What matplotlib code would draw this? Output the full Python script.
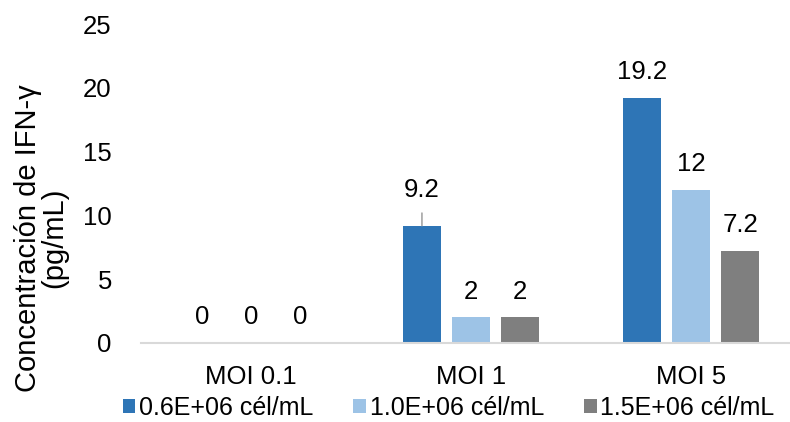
import numpy as np
import matplotlib.pyplot as plt
from matplotlib.patches import Patch

plt.rcParams['font.family'] = ['Liberation Sans', 'DejaVu Sans']

categorias = ["MOI 0.1", "MOI 1", "MOI 5"]
series = ["0.6E+06 cél/mL", "1.0E+06 cél/mL", "1.5E+06 cél/mL"]
cel_06 = [0, 9.2, 19.2]
cel_10 = [0, 2, 12]
cel_15 = [0, 2, 7.2]
yticks = [0, 5, 10, 15, 20, 25]

cores = ["#2E75B6", "#9DC3E6", "#7F7F7F"]

fig = plt.figure(figsize=(7.9, 4.22), dpi=100)
ax = fig.add_axes([141 / 790, 79 / 422, 649 / 790, 319 / 422])

x = np.arange(len(categorias))
largura = 0.175
passo = 0.223

for i, (valores, cor, nome) in enumerate(zip([cel_06, cel_10, cel_15], cores, series)):
    pos = x + (i - 1) * passo
    ax.bar(pos, valores, width=largura, color=cor, label=nome, zorder=2)
    for xi, v in zip(pos, valores):
        txt = f"{v:g}"
        if nome == series[0] and v == 9.2:
            # rotulo deslocado com linha guia
            ax.annotate(txt, xy=(xi, v), xytext=(0, 17), textcoords="offset points",
                        ha="center", va="bottom", fontsize=18.5, color="#000000",
                        arrowprops=dict(arrowstyle="-", color="#A6A6A6", lw=1.2,
                                        shrinkA=6, shrinkB=0))
        else:
            ax.annotate(txt, xy=(xi, v), xytext=(0, 10), textcoords="offset points",
                        ha="center", va="bottom", fontsize=18.5, color="#000000")

ax.set_xlim(-0.5, 2.45)
ax.set_ylim(0, 25)
ax.set_yticks(yticks)
ax.set_xticks(x)
ax.set_xticklabels(categorias)
ax.tick_params(axis="both", length=0, labelsize=18.5, colors="#000000")
ax.tick_params(axis="x", pad=16)
ax.tick_params(axis="y", pad=21)

for lado in ["top", "right", "left"]:
    ax.spines[lado].set_visible(False)
ax.spines["bottom"].set_color("#D9D9D9")
ax.spines["bottom"].set_linewidth(1.5)

fig.text(0.052, 0.436, "Concentración de IFN-γ\n(pg/mL)", rotation=90, ha="center",
         va="center", multialignment="center", fontsize=21, linespacing=0.95)

handles = [Patch(facecolor=c, edgecolor="none") for c in cores]
fig.legend(handles, series, loc="center", bbox_to_anchor=(0.568, 0.033), ncol=3,
           frameon=False, fontsize=18, handlelength=0.5, handleheight=0.5,
           handletextpad=0.15, columnspacing=1.6, borderaxespad=0)

fig.savefig("out.png", dpi=100)
